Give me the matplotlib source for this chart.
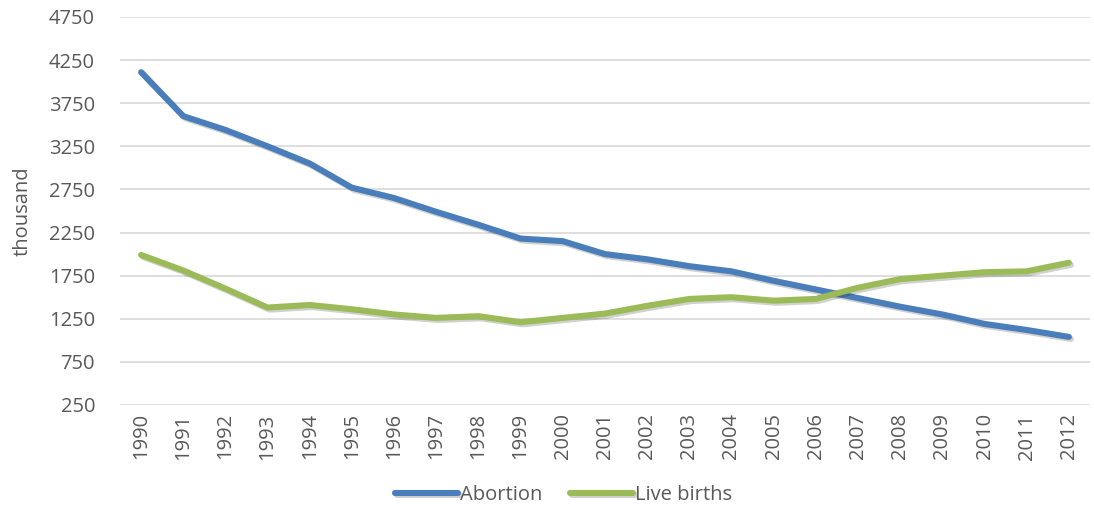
import matplotlib
matplotlib.use("Agg")
import matplotlib.pyplot as plt
import matplotlib.patheffects as pe

plt.rcParams['font.family'] = ['Open Sans', 'DejaVu Sans']

# --- data (thousand) ---
years = [str(y) for y in range(1990, 2013)]
abortion = [4110, 3600, 3440, 3250, 3050, 2770, 2650, 2490, 2340, 2180, 2150, 2000,
            1940, 1860, 1800, 1690, 1590, 1490, 1390, 1300, 1190, 1120, 1040]
live_births = [1990, 1810, 1600, 1380, 1410, 1360, 1300, 1260, 1280, 1210, 1260, 1310,
               1400, 1480, 1500, 1460, 1480, 1610, 1710, 1750, 1790, 1800, 1900]
yticks = [250, 750, 1250, 1750, 2250, 2750, 3250, 3750, 4250, 4750]

grey = '#595959'
shadow = [pe.SimpleLineShadow(offset=(1.5, -1.5), alpha=0.18), pe.Normal()]

fig = plt.figure(figsize=(10.94, 5.15), dpi=100)
ax = fig.add_axes([0.1097, 0.2136, 0.8866, 0.7534])

x = range(len(years))
ax.plot(x, abortion, color='#4A7EBB', lw=4.4, solid_capstyle='round',
        solid_joinstyle='round', label='Abortion', path_effects=shadow)
ax.plot(x, live_births, color='#9BBB59', lw=4.4, solid_capstyle='round',
        solid_joinstyle='round', label='Live births', path_effects=shadow)

ax.set_xlim(-0.5, len(years) - 0.5)
ax.set_ylim(250, 4750)
ax.set_yticks(yticks)
ax.set_xticks(list(x))
ax.set_xticklabels(years, rotation=90)
ax.tick_params(axis='both', length=0, labelsize=14.5, labelcolor=grey)
ax.tick_params(axis='y', pad=18)
ax.tick_params(axis='x', pad=6)
ax.grid(axis='y', color='#D9D9D9', lw=1.2)
ax.set_axisbelow(True)
for s in ax.spines.values():
    s.set_visible(False)

ax.set_ylabel('thousand', fontsize=14.5, color=grey, labelpad=12)

# legend below the plot, centred
leg = fig.legend(loc='lower center', bbox_to_anchor=(0.515, -0.015), ncol=2,
                 frameon=False, fontsize=14.5, handlelength=3.1,
                 columnspacing=1.4, handletextpad=0.1)
for t in leg.get_texts():
    t.set_color(grey)

fig.savefig('out.png', dpi=100)
